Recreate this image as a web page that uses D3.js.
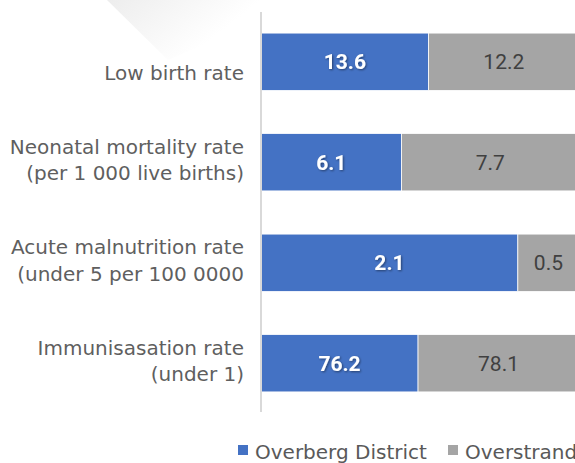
<!DOCTYPE html>
<html>
<head>
<meta charset="utf-8">
<script src="https://cdn.jsdelivr.net/npm/d3@7"></script>
<style>
  html, body { margin: 0; padding: 0; background: #fff; overflow: hidden; }
  svg { display: block; }
</style>
</head>
<body>
<div id="chart"></div>
<script>
var categories = [
  ["Low birth rate"],
  ["Neonatal mortality rate", "(per 1 000 live births)"],
  ["Acute malnutrition rate", "(under 5 per 100 0000"],
  ["Immunisasation rate", "(under 1)"]
];
var seriesNames = ["Overberg District", "Overstrand"];
var overberg = [13.6, 6.1, 2.1, 76.2];
var overstrand = [12.2, 7.7, 0.5, 78.1];
var colors = ["#4472c4", "#a5a5a5"];

var divWidth = 575,
    divHeight = 463,
    margin = {top: 12, left: 261, bottom: 51, right: -4};

var svg = d3.select("#chart")
  .append("svg")
  .attr("width", divWidth)
  .attr("height", divHeight);

// faint background decoration, top left
var defs = svg.append("defs");
var grad = defs.append("linearGradient")
  .attr("id", "deco")
  .attr("x1", "0").attr("y1", "0").attr("x2", "1").attr("y2", "0.5");
grad.append("stop").attr("offset", "0").attr("stop-color", "#ededed");
grad.append("stop").attr("offset", "0.8").attr("stop-color", "#ffffff");
svg.append("polygon")
  .attr("points", "107,0 262,0 262,20 168,60")
  .attr("fill", "url(#deco)");

// convert to wide rows and stack as percentages
var rows = categories.map(function (c, i) {
  return {key: i, label: c, "Overberg District": overberg[i], "Overstrand": overstrand[i]};
});
var series = d3.stack().keys(seriesNames).offset(d3.stackOffsetExpand)(rows);

var xScale = d3.scaleLinear()
  .domain([0, 1])
  .range([margin.left, divWidth - margin.right]);
var yScale = d3.scaleBand()
  .domain(rows.map(d => d.key))
  .range([margin.top + 1, divHeight - margin.bottom])
  .paddingInner(0.43)
  .paddingOuter(0.2);

// bars
var raw = [overberg, overstrand];
series.forEach(function (s, si) {
  var g = svg.append("g").attr("class", "series-" + si);
  g.selectAll("rect")
    .data(s)
    .join("rect")
      .attr("x", d => xScale(d[0]))
      .attr("y", d => yScale(d.data.key))
      .attr("width", d => xScale(d[1]) - xScale(d[0]))
      .attr("height", yScale.bandwidth())
      .attr("fill", colors[si])
      .attr("stroke", "#fff")
      .attr("stroke-width", 0.75);
});

// shadow for white labels
var filt = defs.append("filter").attr("id", "shadow")
  .attr("x", "-20%").attr("y", "-20%").attr("width", "140%").attr("height", "140%");
filt.append("feDropShadow")
  .attr("dx", 1).attr("dy", 1).attr("stdDeviation", 0.8)
  .attr("flood-color", "#000").attr("flood-opacity", 0.45);

series.forEach(function (s, si) {
  svg.append("g").selectAll("text")
    .data(s)
    .join("text")
      .attr("x", d => (xScale(d[0]) + xScale(d[1])) / 2)
      .attr("y", d => yScale(d.data.key) + yScale.bandwidth() / 2)
      .attr("dy", "0.36em")
      .attr("text-anchor", "middle")
      .style("font-family", "Roboto, 'Noto Sans', sans-serif")
      .style("font-size", "21px")
      .style("font-weight", si === 0 ? "bold" : "normal")
      .style("fill", si === 0 ? "#ffffff" : "#404040")
      .attr("filter", si === 0 ? "url(#shadow)" : null)
      .text((d, i) => raw[si][i].toFixed(1));
});

// category axis
var yAxis = d3.axisLeft(yScale).tickSize(0).tickFormat("");
var axisG = svg.append("g")
  .attr("transform", `translate(${margin.left},0)`)
  .call(yAxis);
axisG.select(".domain").remove();
svg.append("line")
  .attr("x1", margin.left).attr("x2", margin.left)
  .attr("y1", margin.top).attr("y2", divHeight - margin.bottom)
  .attr("stroke", "#d9d9d9")
  .attr("stroke-width", 2);

// category labels: last line sits just below the bar centre
var lineGap = 26.5;
var labels = svg.append("g")
  .selectAll("text")
  .data(rows)
  .join("text")
    .attr("x", margin.left - 17)
    .attr("y", d => yScale(d.key) + yScale.bandwidth() / 2 + 18 - (d.label.length - 1) * lineGap)
    .attr("text-anchor", "end")
    .style("font-family", "'DejaVu Sans', sans-serif")
    .style("font-size", "20px")
    .style("fill", "#5f5f5f");
labels.each(function (d) {
  var t = d3.select(this);
  d.label.forEach(function (line, j) {
    t.append("tspan")
      .attr("x", margin.left - 17)
      .attr("dy", j === 0 ? 0 : lineGap)
      .text(line);
  });
});

// legend
var legendX = [238, 448];
var legend = svg.append("g")
  .selectAll("g")
  .data(seriesNames)
  .join("g")
    .attr("transform", (d, i) => `translate(${legendX[i]},0)`);
legend.append("rect")
  .attr("x", 0).attr("y", 445)
  .attr("width", 10).attr("height", 10)
  .attr("fill", (d, i) => colors[i]);
legend.append("text")
  .attr("x", 17).attr("y", 459)
  .style("font-family", "'DejaVu Sans', sans-serif")
  .style("font-size", "20px")
  .style("fill", "#595959")
  .text(d => d);
</script>
</body>
</html>
